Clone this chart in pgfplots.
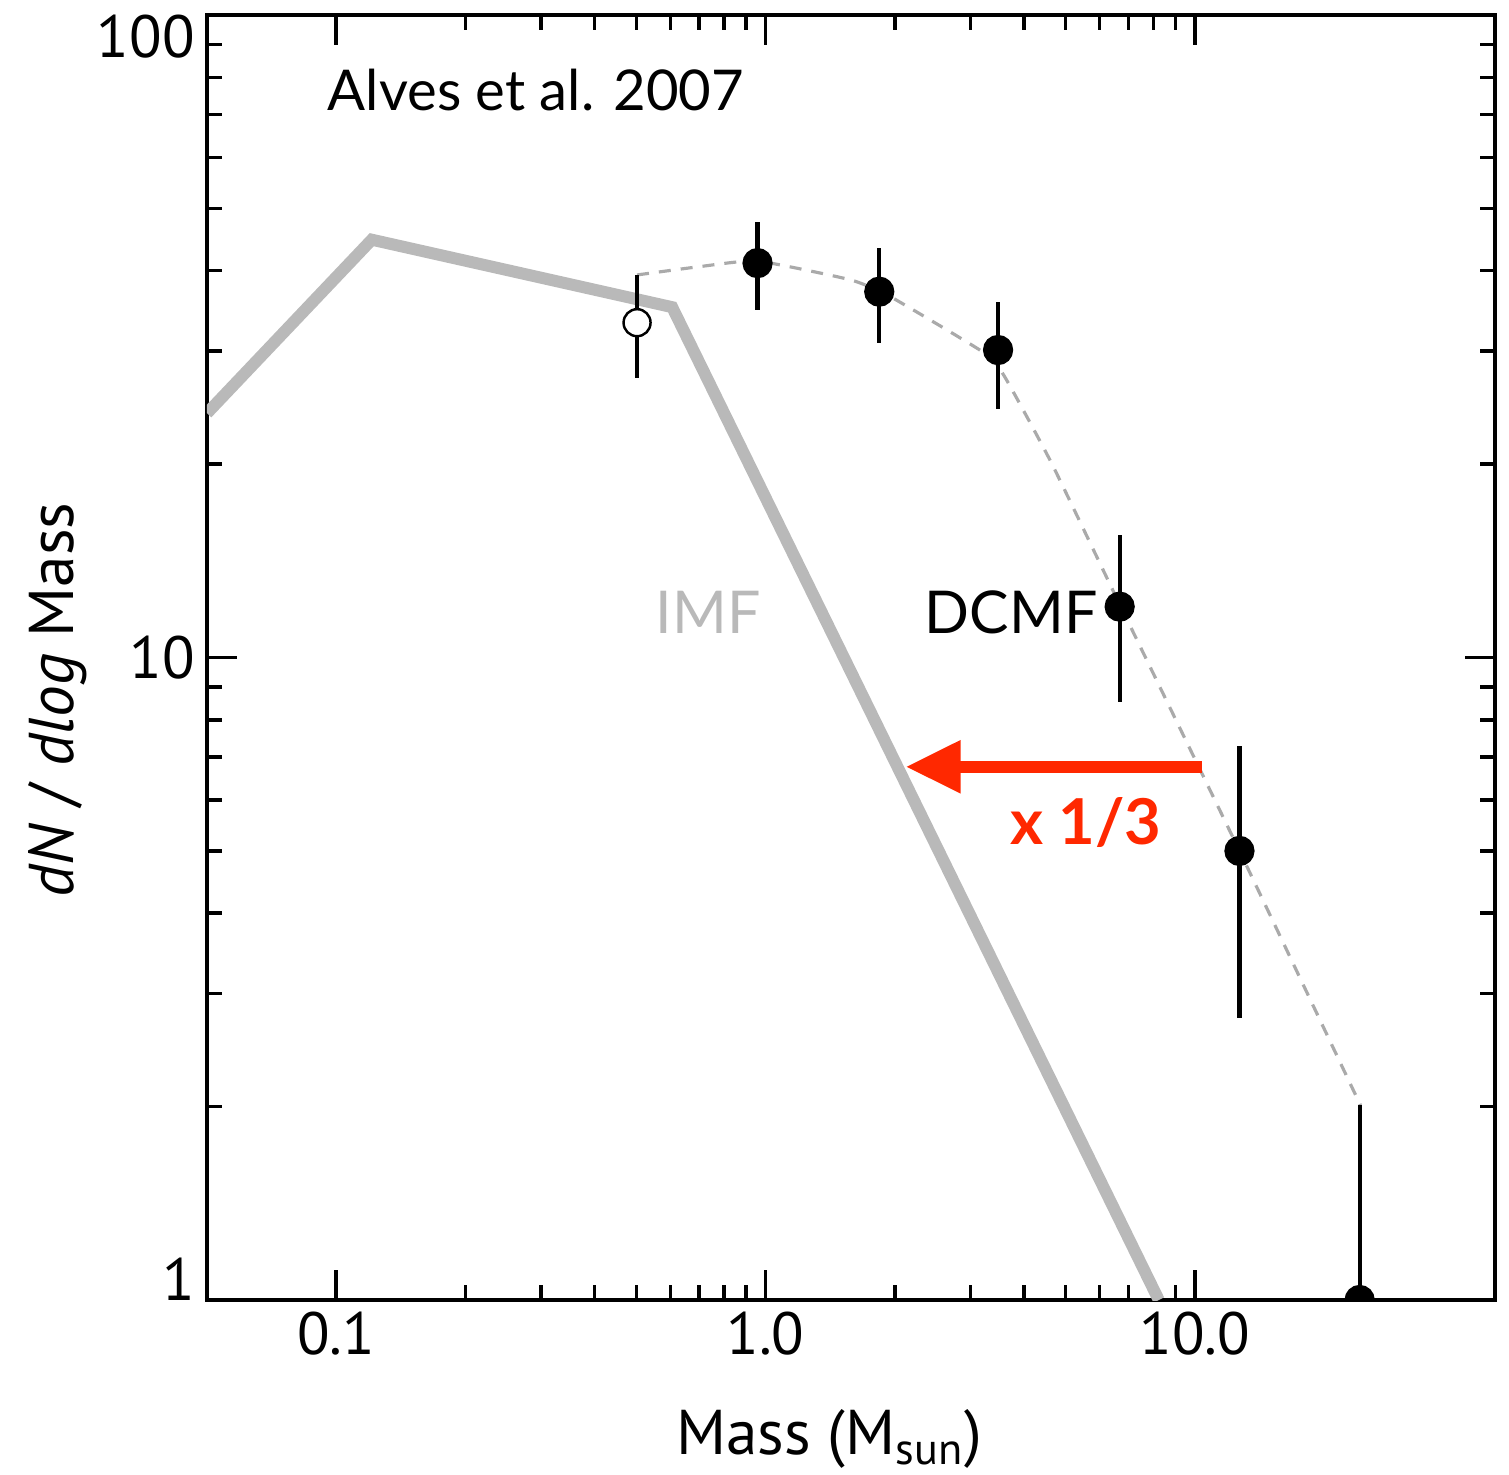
\documentclass[border=0pt]{standalone}
\usepackage{fontspec}
\setmainfont{PT Sans}
\newfontfamily\notefont{Lato}
\usepackage{pgfplots}
\pgfplotsset{compat=1.18}
\usetikzlibrary{arrows.meta}
\definecolor{imfgray}{RGB}{185,185,185}
\definecolor{dashgray}{RGB}{170,170,170}
\definecolor{arrowred}{RGB}{255,40,0}

\begin{document}
\begin{tikzpicture}
\begin{axis}[
  scale only axis,
  width=12.88cm, height=12.85cm,
  xmode=log, ymode=log,
  xmin=0.05, xmax=50, ymin=1, ymax=100,
  xtick={0.1,1,10}, xticklabels={0.1,1.0,10.0},
  ytick={1,10,100},
  yticklabels={\smash{1},10,\smash{\raisebox{-\height}{100}}},
  tick label style={font=\fontsize{17}{17}\selectfont},
  major tick length=3mm, minor tick length=1.5mm,
  axis line style={line width=1pt},
  every tick/.style={black, line width=1pt},
  clip marker paths=true,
  xlabel={Mass (M\textsubscript{sun})},
  ylabel={\textit{dN} / \textit{dlog} Mass},
  label style={font=\fontsize{18}{18}\selectfont},
  xlabel style={at={(axis description cs:0.483,-0.1206)}, anchor=base},
  ylabel style={at={(axis description cs:-0.104,0.467)}, anchor=base},
]

% IMF (grey broken power law)
\addplot[imfgray, line width=3.4pt, line join=miter] coordinates {
  (0.05,24.0) (0.121,44.7) (0.606,35.1) (8.24,1.0)
};

% DCMF model curve
\addplot[dashgray, line width=0.9pt, dash pattern=on 1.2mm off 1mm, smooth, tension=0.3] coordinates {
  (0.502,39.4) (0.705,40.6) (0.958,41.4) (1.58,38.7) (1.96,36.4)
  (3.23,29.8) (3.60,27.4) (4.63,20.1) (6.64,12.2) (12.7,5.0) (24.3,2.01)
};

% open point
\addplot[black, line width=1.2pt, only marks,
  mark=*, mark size=1.35mm, mark options={fill=white, line width=0.7pt},
  error bars/.cd, y dir=both, y explicit,
  error mark=none, error bar style={line width=1.2pt}] coordinates {
  (0.502,33.2) +=(0,6.2) -=(0,6.0)
};

% DCMF points
\addplot[black, line width=1.2pt, only marks,
  mark=*, mark size=1.3mm, mark options={fill=black},
  error bars/.cd, y dir=both, y explicit,
  error mark=none, error bar style={line width=1.2pt}] coordinates {
  (0.958,41.1) +=(0,6.6)  -=(0,6.3)
  (1.84,37.1)  +=(0,6.3)  -=(0,6.2)
  (3.48,30.1)  +=(0,5.6)  -=(0,5.7)
  (6.68,12.0)  +=(0,3.5)  -=(0,3.47)
  (12.7,5.0)   +=(0,2.28) -=(0,2.25)
  (24.2,1.0)   +=(0,1.01) -=(0,0)
};

\node[anchor=base west, inner sep=0pt, font=\notefont\fontsize{16}{16}\selectfont]
  at (axis cs:0.0953,71.1) {Alves et al. 2007};
\node[anchor=base west, inner sep=0pt, text=imfgray, font=\notefont\fontsize{16.8}{16.8}\selectfont]
  at (axis cs:0.553,10.9) {IMF};
\node[anchor=base west, inner sep=0pt, font=\notefont\fontsize{16.8}{16.8}\selectfont]
  at (axis cs:2.34,10.9) {DCMF};
\draw[arrowred, line width=1.2mm, -{Triangle[length=5.5mm, width=5mm]}]
  (axis cs:10.4,6.76) -- (axis cs:2.12,6.76);
\node[anchor=base west, inner sep=0pt, text=arrowred, font=\notefont\bfseries\fontsize{18}{18}\selectfont]
  at (axis cs:3.70,5.11) {x 1/3};
\end{axis}
\pgfresetboundingbox
\useasboundingbox ([shift={(-2.07cm,-1.74cm)}]current axis.south west)
  rectangle ([shift={(0.14cm,0.15cm)}]current axis.north east);
\end{tikzpicture}
\end{document}
